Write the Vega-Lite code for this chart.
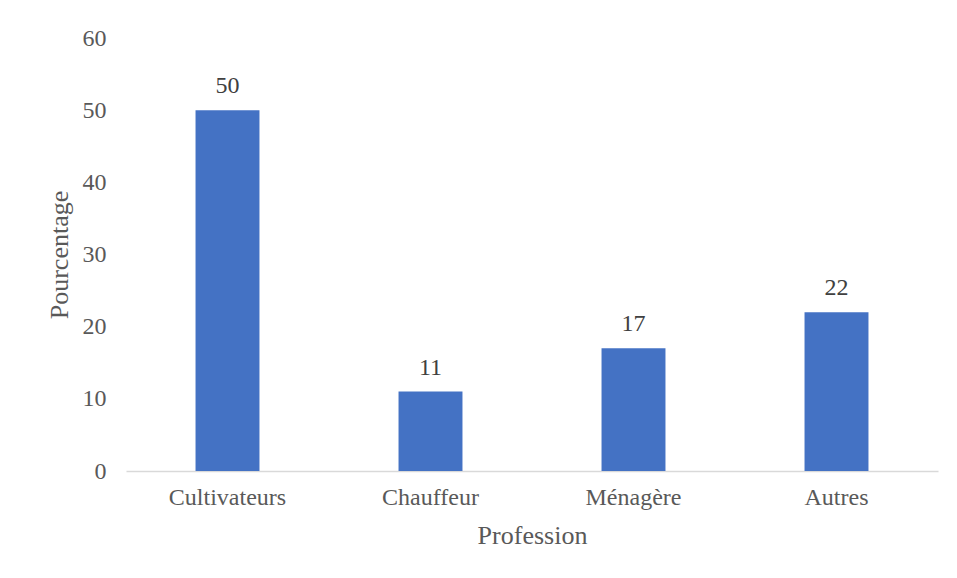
{
  "$schema": "https://vega.github.io/schema/vega-lite/v6.json",
  "width": 812,
  "height": 433,
  "autosize": {"type": "none"},
  "padding": {"left": 126, "top": 38, "right": 19, "bottom": 107},
  "background": "white",
  "config": {
    "view": {"stroke": null},
    "font": "Liberation Serif",
    "axis": {"labelFont": "Liberation Serif", "titleFont": "Liberation Serif", "labelColor": "#595959", "titleColor": "#595959", "titleFontWeight": "normal"}
  },
  "data": {
    "values": [
      {"profession": "Cultivateurs", "pct": 50},
      {"profession": "Chauffeur", "pct": 11},
      {"profession": "Ménagère", "pct": 17},
      {"profession": "Autres", "pct": 22}
    ]
  },
  "encoding": {
    "x": {
      "field": "profession", "type": "nominal", "sort": null,
      "scale": {"paddingInner": 0.685, "paddingOuter": 0.3425},
      "axis": {"title": "Profession", "labelAngle": 0, "labelFontSize": 24, "titleFontSize": 26, "domainColor": "#d9d9d9", "domainWidth": 1.5, "ticks": false, "labelPadding": 14, "titlePadding": 13, "grid": false}
    },
    "y": {
      "field": "pct", "type": "quantitative",
      "scale": {"domain": [0, 60]},
      "axis": {"title": "Pourcentage", "values": [0, 10, 20, 30, 40, 50, 60], "labelFontSize": 24, "titleFontSize": 26, "domain": false, "ticks": false, "grid": false, "labelPadding": 20, "titlePadding": 10}
    }
  },
  "layer": [
    {"mark": {"type": "bar", "color": "#4472c4"}},
    {"mark": {"type": "text", "dy": -12, "baseline": "bottom", "fontSize": 24, "color": "#404040", "font": "Liberation Serif"}, "encoding": {"text": {"field": "pct", "type": "quantitative"}}}
  ]
}
